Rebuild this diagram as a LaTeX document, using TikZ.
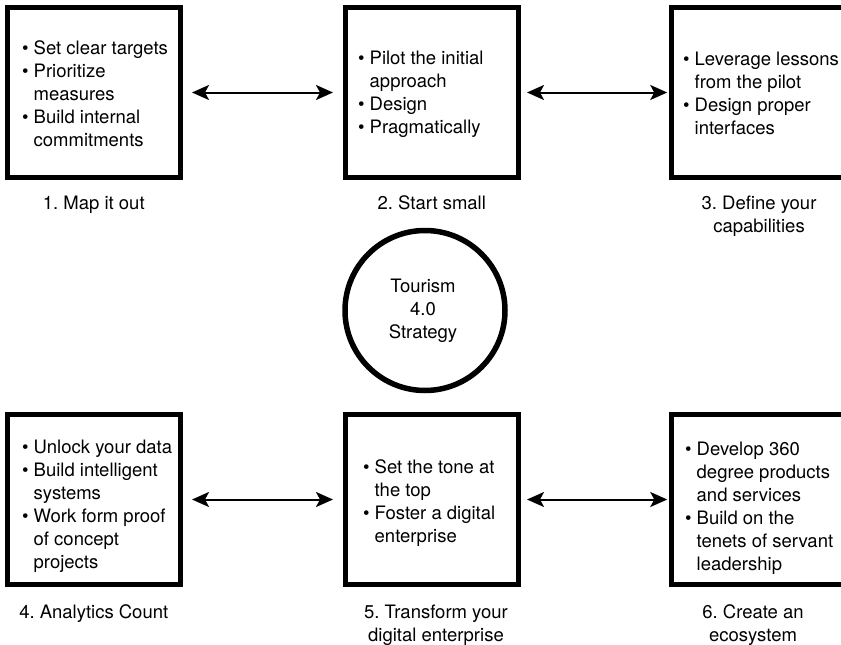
\documentclass[tikz,border=0pt]{standalone}
\usepackage{fontspec}
\setmainfont{TeX Gyre Heros}
\usetikzlibrary{arrows.meta}
\newcommand{\bul}{\textbullet}
\frenchspacing
\begin{document}
\begin{tikzpicture}[x=1pt,y=-1pt,
  every node/.style={font=\fontsize{18.5}{23}\selectfont},
  stage/.style={draw, line width=5pt, minimum width=172.5pt, minimum height=170pt,
    inner sep=0pt, outer sep=0pt},
  points/.style={anchor=west, inner sep=0pt},
  caption/.style={anchor=base, inner sep=0pt},
  hub/.style={draw, circle, line width=5.5pt, minimum size=160pt, inner sep=0pt, outer sep=0pt},
  link/.style={line width=2pt, {Stealth[length=17pt,width=15pt,inset=4pt]}-{Stealth[length=17pt,width=15pt,inset=4pt]}}
]
\useasboundingbox (0,0) rectangle (841,645);
\clip (0,0) rectangle (841,645);

% the six stages
\node[stage] (s1) at (93.75,92.5) {};
\node[stage] (s2) at (431.75,92.5) {};
\node[stage] (s3) at (757.5,92.5) {};
\node[stage] (s4) at (93.75,499.5) {};
\node[stage] (s5) at (431.75,499.5) {};
\node[stage] (s6) at (758,499.5) {};

% bullet points inside each stage
\node[points] (p1) at (22,95.5) {\begin{tabular}{@{}l@{\hspace{5pt}}l@{}}
\bul & Set clear targets\\
\bul & Prioritize\\
 & measures\\
\bul & Build internal\\
 & commitments
\end{tabular}};
\node[points] (p2) at (358,94.5) {\begin{tabular}{@{}l@{\hspace{5pt}}l@{}}
\bul & Pilot the initial\\
 & approach\\
\bul & Design\\
\bul & Pragmatically
\end{tabular}};
\node[points] (p3) at (683,95.5) {\begin{tabular}{@{}l@{\hspace{5pt}}l@{}}
\bul & Leverage lessons\\
 & from the pilot\\
\bul & Design proper\\
 & interfaces
\end{tabular}};
\node[points] (p4) at (22,506.5) {\begin{tabular}{@{}l@{\hspace{5pt}}l@{}}
\bul & Unlock your data\\
\bul & Build intelligent\\
 & systems\\
\bul & Work form proof\\
 & of concept\\
 & projects
\end{tabular}};
\node[points] (p5) at (363,503.5) {\begin{tabular}{@{}l@{\hspace{5pt}}l@{}}
\bul & Set the tone at\\
 & the top\\
\bul & Foster a digital\\
 & enterprise
\end{tabular}};
\node[points] (p6) at (685,508) {\begin{tabular}{@{}l@{\hspace{5pt}}l@{}}
\bul & Develop 360\\
 & degree products\\
 & and services\\
\bul & Build on the\\
 & tenets of servant\\
 & leadership
\end{tabular}};

% stage captions
\node[caption] (c1) at (93.75,209) {\begin{tabular}[t]{@{}c@{}}1. Map it out\end{tabular}};
\node[caption] (c2) at (431.75,209) {\begin{tabular}[t]{@{}c@{}}2. Start small\end{tabular}};
\node[caption] (c3) at (759,209) {\begin{tabular}[t]{@{}c@{}}3. Define your\\capabilities\end{tabular}};
\node[caption] (c4) at (93.75,618) {\begin{tabular}[t]{@{}c@{}}4. Analytics Count\end{tabular}};
\node[caption] (c5) at (436,618) {\begin{tabular}[t]{@{}c@{}}5. Transform your\\digital enterprise\end{tabular}};
\node[caption] (c6) at (753,618) {\begin{tabular}[t]{@{}c@{}}6. Create an\\ecosystem\end{tabular}};

% central strategy
\node[hub] (core) at (425,310.5) {};
\node[inner sep=0pt] (coretext) at (423,310.5) {\begin{tabular}{@{}c@{}}Tourism\\4.0\\Strategy\end{tabular}};

% two-way links between neighbouring stages
\draw[link, shorten <=12pt, shorten >=12.5pt] (s1) -- (s2);
\draw[link, shorten <=9pt, shorten >=4pt] (s2) -- (s3);
\draw[link, shorten <=12pt, shorten >=12.5pt] (s4) -- (s5);
\draw[link, shorten <=9pt, shorten >=4.5pt] (s5) -- (s6);
\end{tikzpicture}
\end{document}
